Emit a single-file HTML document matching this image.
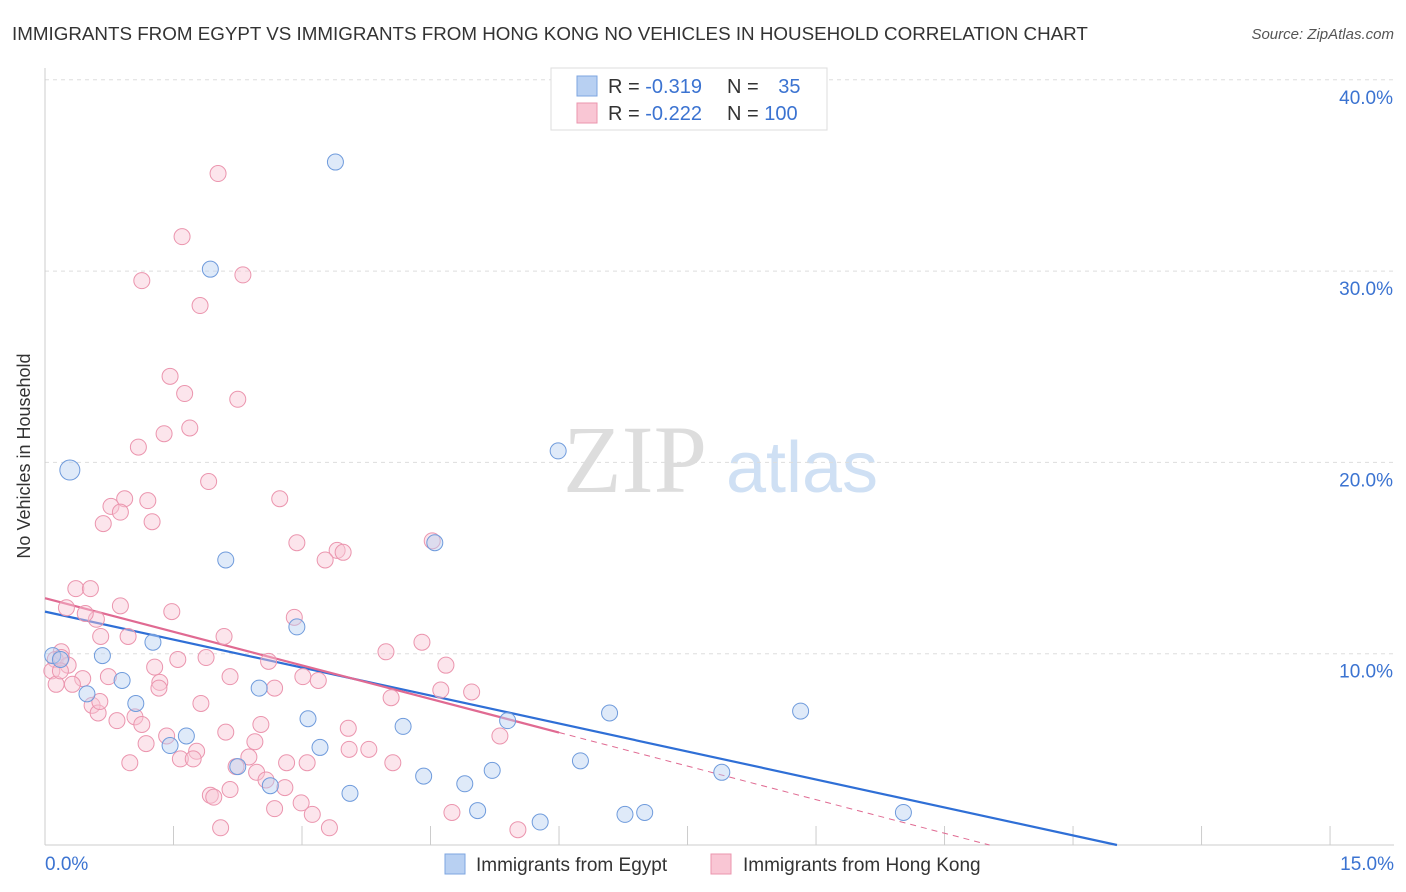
<!DOCTYPE html>
<html><head><meta charset="utf-8"><style>
body{margin:0;background:#fff;font-family:"Liberation Sans",sans-serif}
svg{display:block}
</style></head><body>
<svg id="c" width="1406" height="892" xmlns="http://www.w3.org/2000/svg" font-family="Liberation Sans, sans-serif">
<text x="12" y="40" font-size="18.8" fill="#333">IMMIGRANTS FROM EGYPT VS IMMIGRANTS FROM HONG KONG NO VEHICLES IN HOUSEHOLD CORRELATION CHART</text>
<text x="1394" y="39" font-size="15" fill="#555" text-anchor="end" font-style="italic">Source: ZipAtlas.com</text>
<text x="30" y="456" font-size="18" fill="#333" text-anchor="middle" transform="rotate(-90 30 456)">No Vehicles in Household</text>
<g><text x="635" y="492" font-size="96" fill="#ddd" font-family="Liberation Serif, serif" text-anchor="middle">ZIP</text><text x="802" y="492" font-size="72" fill="#cfe0f4" text-anchor="middle">atlas</text></g>
<g id="grid"></g><g id="axes"></g><g id="lines"></g><g id="pts"></g>
<g>
<rect x="551" y="68" width="276" height="62" fill="#fff" stroke="#ddd"/>
<rect x="577" y="76" width="20" height="20" fill="#b8d0f2" stroke="#7ea6e0"/>
<rect x="577" y="103" width="20" height="20" fill="#f9c6d4" stroke="#eb95ae"/>
<text x="608" y="93" font-size="20" fill="#333">R = <tspan fill="#3b73d1">-0.319</tspan></text>
<text x="727" y="93" font-size="20" fill="#333">N = <tspan fill="#3b73d1" dx="14">35</tspan></text>
<text x="608" y="120" font-size="20" fill="#333">R = <tspan fill="#3b73d1">-0.222</tspan></text>
<text x="727" y="120" font-size="20" fill="#333">N = <tspan fill="#3b73d1">100</tspan></text>
</g>
<g>
<rect x="445" y="854" width="20" height="20" fill="#b8d0f2" stroke="#7ea6e0"/>
<text x="476" y="871" font-size="19" fill="#333">Immigrants from Egypt</text>
<rect x="711" y="854" width="20" height="20" fill="#f9c6d4" stroke="#eb95ae"/>
<text x="743" y="871" font-size="19" fill="#333">Immigrants from Hong Kong</text>
</g>
</svg>
<script>
const yTicks=[10,20,30,40];
const xTickLabels=["0.0%","15.0%"];
const egyptX=[3.39,1.93,0.29,5.99,4.55,2.11,2.94,1.26,0.09,0.67,0.18,0.90,0.49,2.50,1.06,3.07,4.18,1.65,3.21,1.46,2.25,6.25,4.42,5.22,4.90,7.90,6.59,8.82,5.40,3.56,2.63,5.05,5.78,6.77,7.00,10.02];
const egyptY=[35.7,30.1,19.6,20.6,15.8,14.9,11.4,10.6,9.9,9.9,9.7,8.6,7.9,8.2,7.4,6.6,6.2,5.7,5.1,5.2,4.1,4.4,3.6,3.9,3.2,3.8,6.9,7.0,6.5,2.7,3.1,1.8,1.2,1.6,1.7,1.7];
const hkX=[2.02,1.60,1.13,2.31,1.81,1.46,1.63,2.25,1.39,1.69,1.09,1.91,0.93,1.20,0.77,0.88,2.74,1.25,0.68,2.94,3.41,3.48,3.27,4.52,0.36,0.53,0.25,0.88,1.48,2.91,0.60,0.47,0.65,0.97,2.09,4.40,0.19,0.12,0.08,0.27,3.98,4.68,2.61,1.55,1.88,1.28,2.16,0.74,0.44,0.32,0.13,1.34,1.33,2.68,3.01,3.19,4.04,4.62,4.98,1.82,0.55,0.62,1.05,0.84,1.13,2.52,3.54,2.11,5.31,1.42,1.18,1.77,2.45,1.58,1.73,2.38,0.99,2.82,3.06,3.55,3.78,4.06,2.23,2.47,2.58,1.93,1.97,2.99,2.68,3.12,4.75,2.05,3.32,5.52,0.19,0.64,2.16,2.80,0.18];
const hkY=[35.1,31.8,29.5,29.8,28.2,24.5,23.6,23.3,21.5,21.8,20.8,19.0,18.1,18.0,17.7,17.4,18.1,16.9,16.8,15.8,15.4,15.3,14.9,15.9,13.4,13.4,12.4,12.5,12.2,11.9,11.8,12.1,10.9,10.9,10.9,10.6,10.1,9.7,9.1,9.4,10.1,9.4,9.6,9.7,9.8,9.3,8.8,8.8,8.7,8.4,8.4,8.5,8.2,8.2,8.8,8.6,7.7,8.1,8.0,7.4,7.3,6.9,6.7,6.5,6.3,6.3,6.1,5.9,5.7,5.7,5.3,4.9,5.4,4.5,4.5,4.6,4.3,4.3,4.3,5.0,5.0,4.3,4.1,3.8,3.4,2.6,2.5,2.2,1.9,1.6,1.7,0.9,0.9,0.8,9.8,7.5,2.9,3.0,9.1];
const egyptFit=[12.2,-0.975];
const hkFit=[12.9,-1.17];
const X=v=>45+v*85.67, Y=v=>845-v*19.13;
const ns="http://www.w3.org/2000/svg";
function mk(t,a,p){const e=document.createElementNS(ns,t);for(const k in a)e.setAttribute(k,a[k]);p.appendChild(e);return e;}
const grid=document.getElementById('grid'),axes=document.getElementById('axes'),lines=document.getElementById('lines'),pts=document.getElementById('pts');
yTicks.forEach(t=>{const l=mk('line',{x1:45,x2:1394,y1:Y(t),y2:Y(t),stroke:'#ddd','stroke-dasharray':'4,4'},grid);


const tx=mk('text',{x:1393,y:Y(t)+24,'font-size':19,fill:'#3b73d1','text-anchor':'end'},axes);tx.textContent=t.toFixed(1)+'%';

});
mk('line',{x1:45,x2:45,y1:68,y2:845,stroke:'#ccc'},axes);
mk('line',{x1:45,x2:1394,y1:845,y2:845,stroke:'#ccc'},axes);
for(let i=0;i<=10;i++){const t=mk('line',{x1:X(i*1.5),x2:X(i*1.5),y1:826,y2:845,stroke:'#ccc'},axes);

}
[[0,45,'start'],[1,1394,'end']].forEach(([i,x,a])=>{const tx=mk('text',{x:x,y:870,'font-size':19,fill:'#3b73d1','text-anchor':a},axes);tx.textContent=xTickLabels[i];

});
function dot(x,y,f,s,n,r){const c=mk('circle',{cx:X(x),cy:Y(y),r:r,fill:f,'fill-opacity':0.45,stroke:s,'stroke-width':1},pts);

}
hkX.forEach((x,i)=>dot(x,hkY[i],'#f9c6d4','#eb95ae','hongkong-point',8));
egyptX.forEach((x,i)=>dot(x,egyptY[i],'#b8d0f2','#6f9bdc','egypt-point',i==2?10:8));
const be=-egyptFit[0]/egyptFit[1];
const l1=mk('line',{x1:X(0),y1:Y(egyptFit[0]),x2:X(be),y2:Y(0),stroke:'#2f6fd6','stroke-width':2.2},lines);


const he=-hkFit[0]/hkFit[1];
const l2=mk('line',{x1:X(0),y1:Y(hkFit[0]),x2:X(6),y2:Y(hkFit[0]+hkFit[1]*6),stroke:'#e06a92','stroke-width':2.2},lines);


const l3=mk('line',{x1:X(6),y1:Y(hkFit[0]+hkFit[1]*6),x2:X(he),y2:Y(0),stroke:'#e06a92','stroke-width':1,'stroke-dasharray':'6,5'},lines);


</script>
</body></html>
